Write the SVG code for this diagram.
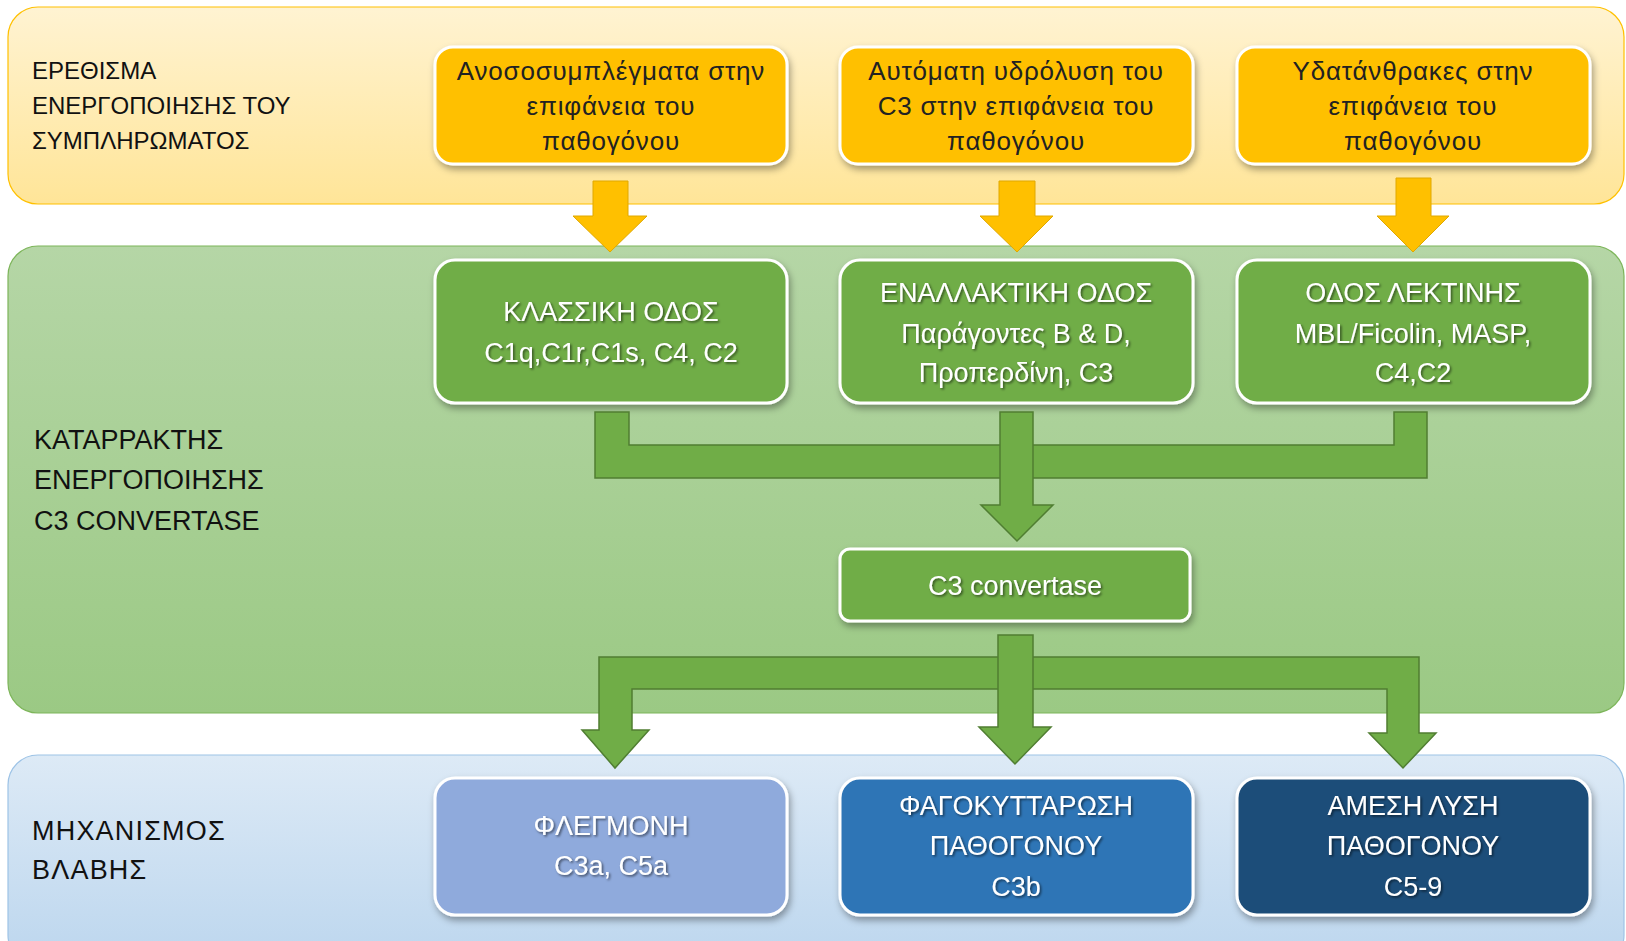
<svg xmlns="http://www.w3.org/2000/svg" width="1626" height="941" viewBox="0 0 1626 941">
<defs>
<linearGradient id="gY" x1="0" y1="0" x2="0" y2="1"><stop offset="0" stop-color="#FFF3D2"/><stop offset="1" stop-color="#FFE598"/></linearGradient>
<linearGradient id="gG" x1="0" y1="0" x2="0" y2="1"><stop offset="0" stop-color="#B5D6A6"/><stop offset="1" stop-color="#9BC984"/></linearGradient>
<linearGradient id="gB" x1="0" y1="0" x2="0" y2="1"><stop offset="0" stop-color="#DDEAF6"/><stop offset="1" stop-color="#BCD6EE"/></linearGradient>
<filter id="sh" x="-10%" y="-10%" width="125%" height="130%"><feDropShadow dx="2" dy="4" stdDeviation="3.5" flood-color="#000" flood-opacity="0.35"/></filter>
<filter id="ts" x="-5%" y="-20%" width="110%" height="150%"><feDropShadow dx="1.5" dy="1.5" stdDeviation="1" flood-color="#000" flood-opacity="0.55"/></filter>
</defs>
<style>
.band{stroke-width:1.2}
.node{stroke:#fff;stroke-width:3;filter:url(#sh)}
.lbl{font-family:"Liberation Sans","Noto Sans",sans-serif;font-size:24px;fill:#111}
.lbl2{font-family:"Liberation Sans","Noto Sans",sans-serif;font-size:27px;fill:#111}
.lbl3{font-family:"Liberation Sans","Noto Sans",sans-serif;font-size:27px;fill:#111;letter-spacing:1.2px}
.yt{font-family:"Liberation Sans","Noto Sans",sans-serif;font-size:26px;fill:#222;text-anchor:middle;letter-spacing:0.8px}
.wt{font-family:"Liberation Sans","Noto Sans",sans-serif;font-size:27px;fill:#fff;text-anchor:middle;filter:url(#ts)}
.ya{fill:#FFC000;stroke:#E0A800;stroke-width:1}
.ga{fill:#70AD47;stroke:#507E32;stroke-width:1.5}
</style>

<g id="band-stimulus">
<rect class="band" x="8" y="7" width="1616" height="197" rx="30" fill="url(#gY)" stroke="#FFC000"/>
<text class="lbl" x="32" y="79">ΕΡΕΘΙΣΜΑ</text>
<text class="lbl" x="32" y="114">ΕΝΕΡΓΟΠΟΙΗΣΗΣ ΤΟΥ</text>
<text class="lbl" x="32" y="149">ΣΥΜΠΛΗΡΩΜΑΤΟΣ</text>
</g>
<g id="band-cascade">
<rect class="band" x="8" y="246" width="1616" height="467" rx="30" fill="url(#gG)" stroke="#7DB55A"/>
<text class="lbl2" x="34" y="449">ΚΑΤΑΡΡΑΚΤΗΣ</text>
<text class="lbl2" x="34" y="489">ΕΝΕΡΓΟΠΟΙΗΣΗΣ</text>
<text class="lbl2" x="34" y="530">C3 CONVERTASE</text>
</g>
<g id="band-damage">
<rect class="band" x="8" y="755" width="1616" height="210" rx="30" fill="url(#gB)" stroke="#9DC3E6"/>
<text class="lbl3" x="32" y="840">ΜΗΧΑΝΙΣΜΟΣ</text>
<text class="lbl3" x="32" y="879">ΒΛΑΒΗΣ</text>
</g>

<g id="n-immune">
<rect class="node" x="435" y="47" width="352" height="117" rx="18" fill="#FFC000"/>
<text class="yt" x="611" y="80">Ανοσοσυμπλέγματα στην</text>
<text class="yt" x="611" y="115">επιφάνεια του</text>
<text class="yt" x="611" y="150">παθογόνου</text>
</g>
<g id="n-hydrolysis">
<rect class="node" x="840" y="47" width="353" height="117" rx="18" fill="#FFC000"/>
<text class="yt" x="1016" y="80">Αυτόματη υδρόλυση του</text>
<text class="yt" x="1016" y="115">C3 στην επιφάνεια του</text>
<text class="yt" x="1016" y="150">παθογόνου</text>
</g>
<g id="n-carbs">
<rect class="node" x="1237" y="47" width="353" height="117" rx="18" fill="#FFC000"/>
<text class="yt" x="1413" y="80">Υδατάνθρακες στην</text>
<text class="yt" x="1413" y="115">επιφάνεια του</text>
<text class="yt" x="1413" y="150">παθογόνου</text>
</g>

<g id="n-classic">
<rect class="node" x="435" y="260" width="352" height="143" rx="20" fill="#70AD47"/>
<text class="wt" x="611" y="321">ΚΛΑΣΣΙΚΗ ΟΔΟΣ</text>
<text class="wt" x="611" y="362">C1q,C1r,C1s, C4, C2</text>
</g>
<g id="n-alternative">
<rect class="node" x="840" y="260" width="353" height="143" rx="20" fill="#70AD47"/>
<text class="wt" x="1016" y="302">ΕΝΑΛΛΑΚΤΙΚΗ ΟΔΟΣ</text>
<text class="wt" x="1016" y="343">Παράγοντες Β &amp; D,</text>
<text class="wt" x="1016" y="382">Προπερδίνη, C3</text>
</g>
<g id="n-lectin">
<rect class="node" x="1237" y="260" width="353" height="143" rx="20" fill="#70AD47"/>
<text class="wt" x="1413" y="302">ΟΔΟΣ ΛΕΚΤΙΝΗΣ</text>
<text class="wt" x="1413" y="343">MBL/Ficolin, MASP,</text>
<text class="wt" x="1413" y="382">C4,C2</text>
</g>

<g id="n-convertase">
<rect class="node" x="840" y="549" width="350" height="72" rx="10" fill="#70AD47"/>
<text class="wt" x="1015" y="595">C3 convertase</text>
</g>

<g id="n-inflammation">
<rect class="node" x="435" y="778" width="352" height="137" rx="20" fill="#8FAADC"/>
<text class="wt" x="611" y="835">ΦΛΕΓΜΟΝΗ</text>
<text class="wt" x="611" y="875">C3a, C5a</text>
</g>
<g id="n-phagocytosis">
<rect class="node" x="840" y="778" width="353" height="137" rx="20" fill="#2E75B6"/>
<text class="wt" x="1016" y="815">ΦΑΓΟΚΥΤΤΑΡΩΣΗ</text>
<text class="wt" x="1016" y="855">ΠΑΘΟΓΟΝΟΥ</text>
<text class="wt" x="1016" y="896">C3b</text>
</g>
<g id="n-lysis">
<rect class="node" x="1237" y="778" width="353" height="137" rx="20" fill="#1F4E79"/>
<text class="wt" x="1413" y="815">ΑΜΕΣΗ ΛΥΣΗ</text>
<text class="wt" x="1413" y="855">ΠΑΘΟΓΟΝΟΥ</text>
<text class="wt" x="1413" y="896">C5-9</text>
</g>

<g id="connectors">
<polygon class="ya" points="593,181 628,181 628,216 647,216 610,252 573,216 593,216"/>
<polygon class="ya" points="999,181 1035,181 1035,216 1053,216 1017,252 980,216 999,216"/>
<polygon class="ya" points="1396,178 1431,178 1431,216 1449,216 1413,252 1377,216 1396,216"/>

<polygon class="ga" points="595,412 629,412 629,445 1394,445 1394,412 1427,412 1427,478 595,478"/>
<polygon class="ga" points="1000,412 1033,412 1033,505 1053,505 1017,541 981,505 1000,505"/>

<polygon class="ga" points="599,657 1419,657 1419,733 1436,733 1403,768 1369,733 1387,733 1387,689 632,689 632,730 649,730 615,768 582,730 599,730"/>
<polygon class="ga" points="998,635 1033,635 1033,727 1051,727 1015,764 979,727 998,727"/>
</g>
</svg>
